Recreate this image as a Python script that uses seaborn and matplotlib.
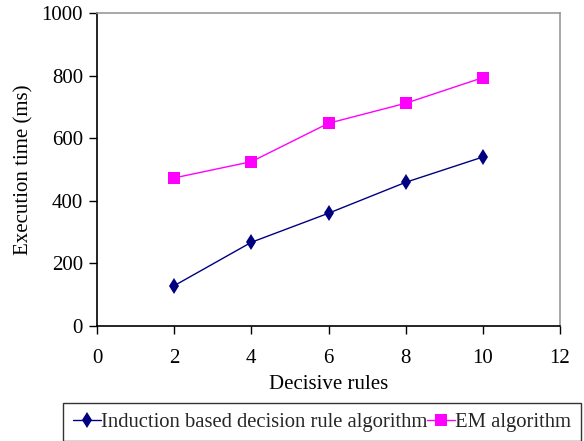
import matplotlib
matplotlib.use("Agg")
import matplotlib.pyplot as plt
import seaborn as sns
import pandas as pd

rules = [2, 4, 6, 8, 10]
induction = [128, 267, 360, 459, 540]
em = [473, 525, 648, 712, 794]
series_names = ["Induction based decision rule algorithm", "EM algorithm"]

sns.set_theme(style="white")
plt.rcParams['font.family'] = ['Liberation Serif', 'DejaVu Serif']

df = pd.DataFrame({
    "rules": rules * 2,
    "time": induction + em,
    "series": [series_names[0]] * len(rules) + [series_names[1]] * len(rules),
})

fig = plt.figure(figsize=(5.84, 4.41), dpi=100)
ax = fig.add_axes([97/584, 1 - 325.7/441, 463/584, 312.4/441])

palette = {series_names[0]: "#000080", series_names[1]: "#FF00FF"}
markers = {series_names[0]: "d", series_names[1]: "s"}
sns.lineplot(data=df, x="rules", y="time", hue="series", style="series",
             palette=palette, markers=markers, dashes=False, markersize=8,
             markeredgewidth=0, linewidth=1.0, ax=ax)

ax.set_xlim(0, 12)
ax.set_ylim(0, 1000)
ax.set_xticks(range(0, 13, 2))
ax.set_yticks(range(0, 1001, 200))
ax.tick_params(axis="both", direction="out", length=6, width=1, colors="black",
               labelsize=15, bottom=True, left=True)
ax.tick_params(axis="x", pad=11)
ax.tick_params(axis="y", pad=4)
ax.set_xlabel("Decisive rules", fontsize=15, color="black", labelpad=5)
ax.set_ylabel("Execution time (ms)", fontsize=15, color="black", labelpad=6)
for s in ["left", "bottom"]:
    ax.spines[s].set_color("black")
    ax.spines[s].set_linewidth(1.2)
for s in ["top", "right"]:
    ax.spines[s].set_color("#999999")
    ax.spines[s].set_linewidth(1.2)

h, l = ax.get_legend_handles_labels()
ax.legend_.remove()
leg = fig.legend(h, l, loc="upper left", bbox_to_anchor=(63.3/584, 1 - 403.3/441),
                 ncol=2, frameon=True, fancybox=False, fontsize=14.9,
                 handlelength=1.35, handletextpad=0.0, columnspacing=0.02,
                 borderpad=0.45, borderaxespad=0)
leg.get_frame().set_edgecolor("black")
leg.get_frame().set_linewidth(1.0)

fig.savefig("out.png", dpi=100)
